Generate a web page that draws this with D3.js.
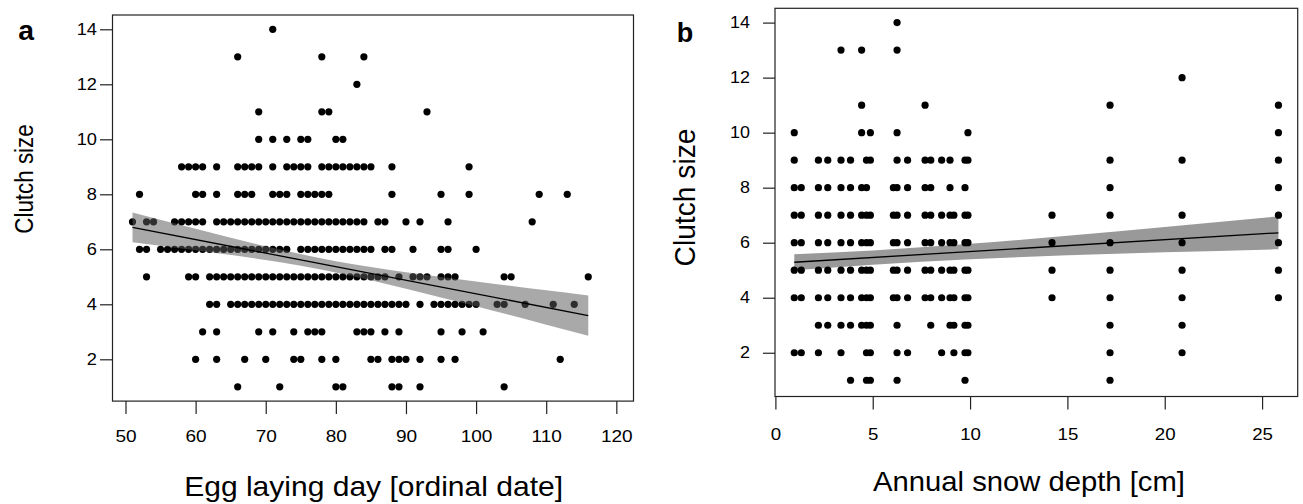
<!DOCTYPE html>
<html><head><meta charset="utf-8">
<script src="https://cdn.jsdelivr.net/npm/d3@7"></script>
<style>
html,body{margin:0;padding:0;background:#fff;}
svg{display:block;}
text{font-family:"Liberation Sans", Arial, Helvetica, sans-serif;fill:#000;}
</style>
</head><body>
<svg id="chart" width="1303" height="504"></svg>
<script>
// ---------- Panel a data: egg laying day for each clutch size ----------
const dayC14 = [71];
const dayC13 = [66, 78, 84];
const dayC12 = [83];
const dayC11 = [69, 78, 79, 93];
const dayC10 = [69, 71, 73, 75, 76, 80, 81];
const dayC9 = [58, 59, 60, 61, 63, 66, 67, 68, 69, 71, 73, 74, 75, 76, 78, 79, 80, 81, 82, 83, 84, 85, 88, 99];
const dayC8 = [52, 60, 61, 63, 66, 67, 68, 71, 72, 73, 75, 76, 77, 78, 79, 88, 95, 99, 109, 113];
const dayC7 = [51, 53, 54, 57, 58, 59, 60, 61, 63, 64, 65, 66, 67, 68, 69, 70, 71, 72, 73, 74, 75, 76, 77, 78, 79, 80, 81, 82, 83, 84, 86, 87, 90, 92, 96, 108];
const dayC6 = [52, 53, 55, 56, 57, 58, 59, 60, 61, 62, 63, 64, 65, 66, 67, 68, 69, 70, 71, 72, 73, 75, 76, 77, 78, 79, 80, 81, 82, 83, 84, 85, 87, 88, 91, 95, 96, 100];
const dayC5 = [53, 59, 60, 62, 63, 64, 65, 66, 67, 68, 69, 70, 71, 72, 73, 74, 75, 76, 77, 78, 79, 80, 81, 82, 83, 84, 85, 86, 87, 89, 91, 92, 93, 95, 96, 97, 104, 105, 116];
const dayC4 = [62, 63, 65, 66, 67, 68, 69, 70, 71, 72, 73, 74, 75, 76, 77, 78, 79, 80, 81, 82, 83, 84, 85, 86, 87, 88, 89, 90, 92, 94, 95, 96, 97, 98, 99, 100, 103, 104, 107, 111, 114];
const dayC3 = [61, 63, 69, 71, 74, 76, 77, 78, 83, 84, 85, 87, 89, 95, 98, 101];
const dayC2 = [60, 63, 67, 70, 74, 75, 78, 80, 85, 86, 88, 89, 90, 92, 95, 97, 112];
const dayC1 = [66, 72, 80, 81, 88, 89, 92, 104];
const clutchLevels = [14, 13, 12, 11, 10, 9, 8, 7, 6, 5, 4, 3, 2, 1];
const dayLists = [dayC14, dayC13, dayC12, dayC11, dayC10, dayC9, dayC8, dayC7, dayC6, dayC5, dayC4, dayC3, dayC2, dayC1];

// fitted line and confidence band, panel a
const fitADay = [51, 116];
const fitAClutch = [6.80, 3.59];
const bandADay = [51, 60, 70, 80, 90, 100, 110, 116];
const bandALow = [6.26, 5.97, 5.61, 5.16, 4.57, 3.93, 3.26, 2.86];
const bandAHigh = [7.34, 6.75, 6.11, 5.57, 5.17, 4.83, 4.51, 4.32];

// ---------- Panel b data: annual snow depth columns and clutch sizes ----------
const snowDepth = [0.97, 1.33, 2.21, 2.69, 3.37, 3.86, 4.43, 4.68, 4.88, 6.06, 6.25, 6.79, 7.69, 7.98, 8.54, 8.97, 9.17, 9.74, 9.89, 14.21, 17.19, 20.89, 25.84];
const clutchAtSnow = [
  [2, 4, 5, 6, 7, 8, 9, 10],
  [2, 4, 5, 6, 7, 8],
  [2, 3, 4, 5, 6, 7, 8, 9],
  [3, 4, 5, 6, 7, 8, 9],
  [2, 3, 4, 5, 6, 7, 8, 9, 13],
  [1, 3, 4, 5, 6, 7, 8, 9],
  [3, 4, 5, 6, 7, 8, 10, 11, 13],
  [1, 2, 3, 4, 5, 6, 7, 8, 9],
  [1, 2, 3, 4, 5, 6, 7, 9, 10],
  [4, 5, 6, 7, 8],
  [1, 2, 3, 4, 5, 6, 7, 8, 9, 10, 13, 14],
  [2, 4, 5, 6, 7, 8, 9],
  [4, 5, 6, 7, 8, 9, 11],
  [3, 4, 5, 6, 7, 8, 9],
  [2, 4, 5, 6, 7, 9],
  [3, 4, 5, 6, 7, 8, 9],
  [2, 3, 4, 5, 6, 7],
  [1, 2, 3, 4, 5, 6, 7, 8, 9],
  [2, 3, 4, 5, 6, 7, 9, 10],
  [4, 5, 6, 7],
  [1, 2, 3, 4, 5, 6, 7, 8, 9, 11],
  [2, 3, 4, 5, 6, 7, 9, 12],
  [4, 5, 6, 7, 8, 9, 10, 11]
];
const fitBSnow = [0.97, 25.84];
const fitBClutch = [5.29, 6.36];
const bandBSnow = [0.97, 5, 10, 15, 20, 25.84];
const bandBLow = [5.00, 5.20, 5.40, 5.54, 5.65, 5.76];
const bandBHigh = [5.58, 5.72, 5.96, 6.25, 6.57, 6.96];

// ---------- tick labels ----------
const yTicks = [2, 4, 6, 8, 10, 12, 14];
const xTicksA = [50, 60, 70, 80, 90, 100, 110, 120];
const xTicksB = [0, 5, 10, 15, 20, 25];

// ---------- build ----------
const svg = d3.select("#chart");
const R = 3.6;

function stretchAxisText(g, sx, size, shift, vertical) {
  g.selectAll(".tick text").each(function () {
    const t = d3.select(this);
    t.attr("font-size", size).attr("font-family", '"Liberation Sans", Arial, sans-serif').attr("fill", "#000");
    if (vertical) {
      t.attr("x", -shift / sx);
    }
    t.attr("transform", `scale(${sx},1)`);
  });
}
function stretchText(x, y, str, size, sx, anchor, weight) {
  svg.append("text")
    .attr("transform", `translate(${x},${y}) scale(${sx},1)`)
    .attr("text-anchor", anchor).attr("font-size", size)
    .attr("font-weight", weight || "normal").text(str);
}
function rotText(x, y, str, size, sx) {
  svg.append("text")
    .attr("transform", `translate(${x},${y}) scale(${sx},1) rotate(-90)`)
    .attr("text-anchor", "middle").attr("font-size", size).text(str);
}

// ===== Panel a =====
const xA = d3.scaleLinear().domain([48.146, 122.45]).range([112.5, 633.5]);
const yA = d3.scaleLinear().domain([0.48, 14.52]).range([401.1, 15]);
const ptsA = [];
clutchLevels.forEach((c, i) => dayLists[i].forEach(d => ptsA.push({ d, c })));

const gA = svg.append("g");
gA.selectAll("circle").data(ptsA).enter().append("circle")
  .attr("cx", p => xA(p.d)).attr("cy", p => yA(p.c)).attr("r", R).attr("fill", "#000");

const bandA = bandADay.map((d, i) => ({ x: d, lo: bandALow[i], hi: bandAHigh[i] }));
gA.append("path").datum(bandA)
  .attr("d", d3.area().x(p => xA(p.x)).y0(p => yA(p.lo)).y1(p => yA(p.hi)).curve(d3.curveMonotoneX))
  .attr("fill", "#5a5a5a").attr("fill-opacity", 0.52);
gA.append("path").datum(fitADay.map((d, i) => ({ x: d, y: fitAClutch[i] })))
  .attr("d", d3.line().x(p => xA(p.x)).y(p => yA(p.y)))
  .attr("stroke", "#000").attr("stroke-width", 1.3).attr("fill", "none");

gA.append("rect").attr("x", 112.5).attr("y", 15).attr("width", 633.5 - 112.5).attr("height", 401.1 - 15)
  .attr("fill", "none").attr("stroke", "#222").attr("stroke-width", 1.2);

const axLA = svg.append("g").attr("transform", "translate(112.5,0)")
  .call(d3.axisLeft(yA).tickValues(yTicks).tickSize(12.5).tickPadding(3));
axLA.select(".domain").remove();
axLA.selectAll(".tick line").attr("stroke", "#222").attr("stroke-width", 1.2);
stretchAxisText(axLA, 1.17, 15.6, 15.5, true);

const axBA = svg.append("g").attr("transform", "translate(0,401.1)")
  .call(d3.axisBottom(xA).tickValues(xTicksA).tickSize(13).tickPadding(16));
axBA.select(".domain").remove();
axBA.selectAll(".tick line").attr("stroke", "#222").attr("stroke-width", 1.2);
stretchAxisText(axBA, 1.12, 17, 0, false);

stretchText(373.6, 496, "Egg laying day [ordinal date]", 27.4, 1.096, "middle");
rotText(33, 179, "Clutch size", 22.4, 1.15);
stretchText(18.3, 40, "a", 27, 1.05, "start", "bold");

// ===== Panel b =====
const xB = d3.scaleLinear().domain([-0.02, 26.83]).range([775, 1297.7]);
const yB = d3.scaleLinear().domain([0.41, 14.52]).range([396.5, 8.3]);
const ptsB = [];
snowDepth.forEach((s, i) => clutchAtSnow[i].forEach(c => ptsB.push({ s, c })));

const gB = svg.append("g");
const bandB = bandBSnow.map((s, i) => ({ x: s, lo: bandBLow[i], hi: bandBHigh[i] }));
gB.append("path").datum(bandB)
  .attr("d", d3.area().x(p => xB(p.x)).y0(p => yB(p.lo)).y1(p => yB(p.hi)).curve(d3.curveMonotoneX))
  .attr("fill", "#999999");
gB.selectAll("circle").data(ptsB).enter().append("circle")
  .attr("cx", p => xB(p.s)).attr("cy", p => yB(p.c)).attr("r", R).attr("fill", "#000");
gB.append("path").datum(fitBSnow.map((s, i) => ({ x: s, y: fitBClutch[i] })))
  .attr("d", d3.line().x(p => xB(p.x)).y(p => yB(p.y)))
  .attr("stroke", "#000").attr("stroke-width", 1.3).attr("fill", "none");

gB.append("rect").attr("x", 775).attr("y", 8.3).attr("width", 1297.7 - 775).attr("height", 396.5 - 8.3)
  .attr("fill", "none").attr("stroke", "#222").attr("stroke-width", 1.2);

const axLB = svg.append("g").attr("transform", "translate(775,0)")
  .call(d3.axisLeft(yB).tickValues(yTicks).tickSize(12).tickPadding(13));
axLB.select(".domain").remove();
axLB.selectAll(".tick line").attr("stroke", "#222").attr("stroke-width", 1.2);
stretchAxisText(axLB, 1.1, 16.3, 25, true);

const axBB = svg.append("g").attr("transform", "translate(0,396.5)")
  .call(d3.axisBottom(xB).tickValues(xTicksB).tickSize(13).tickPadding(18));
axBB.select(".domain").remove();
axBB.selectAll(".tick line").attr("stroke", "#222").attr("stroke-width", 1.2);
stretchAxisText(axBB, 1.1, 17, 0, false);

stretchText(1029, 491, "Annual snow depth [cm]", 27, 1.083, "middle");
rotText(695, 197.5, "Clutch size", 28.2, 1.05);
stretchText(676.7, 41.5, "b", 27, 1.0, "start", "bold");
</script>
</body></html>
